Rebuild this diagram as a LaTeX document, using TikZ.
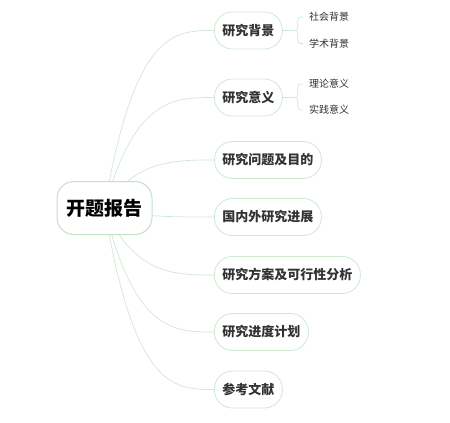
\documentclass[tikz,border=0pt]{standalone}
\usepackage{fontspec}
\setmainfont{Noto Sans CJK SC}
\usetikzlibrary{positioning, calc, backgrounds}

\definecolor{linegreen}{HTML}{CFE9D1}
\definecolor{rootgreen}{HTML}{C2E2C5}
\definecolor{textgray}{HTML}{333333}

\tikzset{
    topic/.style={draw=linegreen, line width=0.8pt, fill=white, rounded corners=18pt,
        minimum height=37pt, inner xsep=8pt, anchor=west, text=textgray,
        font=\fontsize{13pt}{13pt}\selectfont\bfseries},
    sub/.style={draw=none, anchor=west, inner xsep=6pt, text=textgray,
        font=\fontsize{10pt}{10pt}\selectfont},
    edge/.style={draw=linegreen, line width=0.7pt},
}

\begin{document}
\begin{tikzpicture}[x=1pt, y=-1pt]
\useasboundingbox (0,0) rectangle (450,423);

    \node[draw=rootgreen, line width=1pt, fill=white, rounded corners=17pt, minimum width=95pt, minimum height=53pt, font=\fontsize{19pt}{19pt}\selectfont\bfseries] (N0) at (104.5, 208) {开题报告};

    \node[topic] (N1) at (214, 30.5) {研究背景};
\node[sub] (N8) at (303, 17) {社会背景};
\node[sub] (N9) at (303, 43.5) {学术背景};

    \node[topic] (N2) at (214, 97.5) {研究意义};
\node[sub] (N10) at (303, 84) {理论意义};
\node[sub] (N11) at (303, 110) {实践意义};

    \node[topic] (N3) at (214, 160) {研究问题及目的};
    \node[topic] (N4) at (214, 217) {国内外研究进展};
    \node[topic] (N5) at (214, 275) {研究方案及可行性分析};
    \node[topic] (N6) at (214, 332) {研究进度计划};
    \node[topic] (N7) at (214, 389.5) {参考文献};

\begin{scope}[on background layer]
\draw[edge] (N0.center) .. controls ($(N0.center |- N1.west)+(30,0)$) and ($(N1.west)+(-40,0)$) .. (N1.west);
\draw[edge] (N0.center) .. controls ($(N0.center |- N2.west)+(30,0)$) and ($(N2.west)+(-40,0)$) .. (N2.west);
\draw[edge] (N0.center) .. controls ($(N0.center |- N3.west)+(30,0)$) and ($(N3.west)+(-40,0)$) .. (N3.west);
\draw[edge] (N0.center) .. controls ($(N0.center |- N4.west)+(30,0)$) and ($(N4.west)+(-40,0)$) .. (N4.west);
\draw[edge] (N0.center) .. controls ($(N0.center |- N5.west)+(30,0)$) and ($(N5.west)+(-40,0)$) .. (N5.west);
\draw[edge] (N0.center) .. controls ($(N0.center |- N6.west)+(30,0)$) and ($(N6.west)+(-40,0)$) .. (N6.west);
\draw[edge] (N0.center) .. controls ($(N0.center |- N7.west)+(30,0)$) and ($(N7.west)+(-40,0)$) .. (N7.west);
\end{scope}

\draw[edge, rounded corners=3pt] (N1.east) -- ++(15,0) |- (N8.west);
\draw[edge, rounded corners=3pt] (N1.east) -- ++(15,0) |- (N9.west);
\draw[edge, rounded corners=3pt] (N2.east) -- ++(15,0) |- (N10.west);
\draw[edge, rounded corners=3pt] (N2.east) -- ++(15,0) |- (N11.west);

\end{tikzpicture}
\end{document}
